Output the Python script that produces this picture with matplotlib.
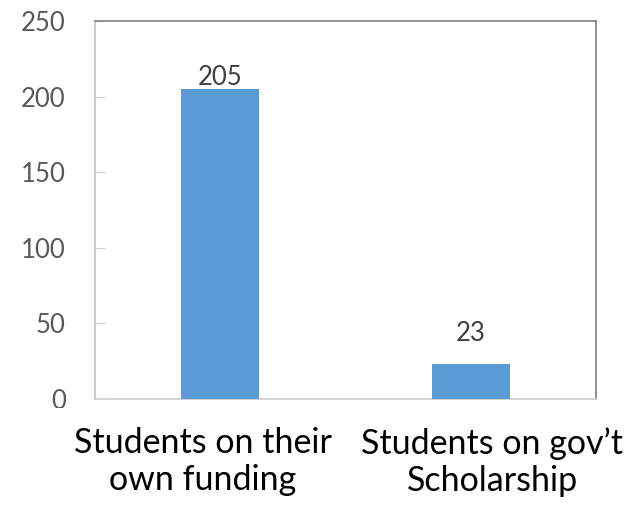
import matplotlib
matplotlib.use("Agg")
import matplotlib.pyplot as plt
from matplotlib.transforms import Bbox

categories = ["Students on their\nown funding", "Students on gov\u2019t\nScholarship"]
counts = [205, 23]
yticks = [0, 50, 100, 150, 200, 250]

plt.rcParams['font.family'] = ['Lato', 'DejaVu Sans']

W, H = 633, 508
fig = plt.figure(figsize=(W / 100, H / 100), dpi=100)
ax = fig.add_axes([95 / W, 1 - 399 / H, (596 - 95) / W, (399 - 21) / H])

pos = [0, 1]
bars = ax.bar(pos, counts, width=0.31, color="#5b9bd5", zorder=3)
# label offsets (points) above bar tops, as placed in the original
offsets = [3, 17]
for b, v, off in zip(bars, counts, offsets):
    ax.annotate(str(v), (b.get_x() + b.get_width() / 2, v), xytext=(0, off),
                textcoords="offset points", ha="center", va="baseline",
                fontsize=18.5, color="#404040")

ax.set_xlim(-0.5, 1.5)
ax.set_ylim(0, 250)
ax.set_yticks(yticks)
ax.set_yticklabels([str(t) for t in yticks], fontsize=18.5, color="#595959")
ax.tick_params(axis="y", direction="in", length=7, color="#d0d0d0", pad=21)

ax.set_xticks([-0.07, 1.086])
ax.set_xticklabels(categories, fontsize=24.5, color="black", linespacing=1.2)
ax.tick_params(axis="x", length=0, pad=20)

ax.spines["left"].set_color("#c8c8c8")
ax.spines["bottom"].set_color("#d0d0d0")
ax.spines["top"].set_color("#8a8a8a")
ax.spines["right"].set_color("#8a8a8a")
for s in ax.spines.values():
    s.set_linewidth(1.3)

# the "0" label is cut off at the bottom in the original
zero = ax.get_yticklabels()[0]
zero.set_clip_box(Bbox.from_extents(0, H - 408, W, H))
zero.set_clip_on(True)

fig.savefig("out.png", dpi=100)
